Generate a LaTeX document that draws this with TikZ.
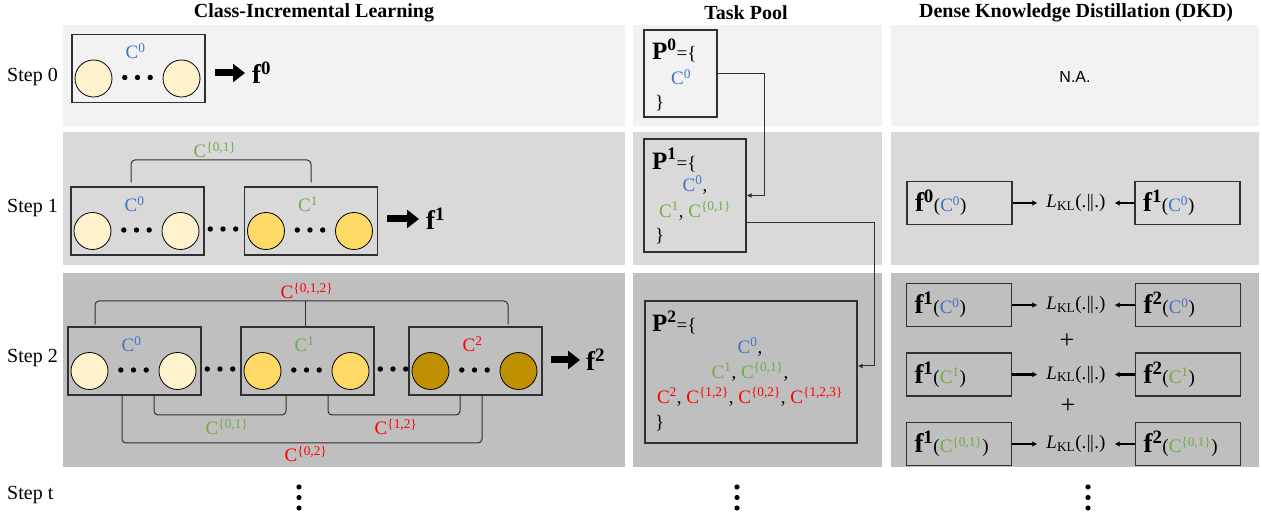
\documentclass[tikz,border=0pt]{standalone}
\usepackage{fontspec}
\setmainfont{Liberation Serif}
\newfontfamily\arialfont{Liberation Sans}
\usetikzlibrary{arrows.meta}

\definecolor{row0bg}{HTML}{F2F2F2}
\definecolor{row1bg}{HTML}{D9D9D9}
\definecolor{row2bg}{HTML}{BFBFBF}
\definecolor{cl0}{HTML}{FFF2CC}
\definecolor{cl1}{HTML}{FFD966}
\definecolor{cl2}{HTML}{BF9000}
\definecolor{cblue}{HTML}{4472C4}
\definecolor{cgreen}{HTML}{70AD47}
\definecolor{cred}{HTML}{FF0000}
\definecolor{linec}{HTML}{303030}

\newcommand{\Cset}[2]{\textcolor{#1}{C\textsuperscript{#2}}}
\newcommand{\fmap}[2]{{\fontsize{27}{27}\selectfont\bfseries f\textsuperscript{#1}}(#2)}
\newcommand{\Phead}[1]{{\fontsize{25}{25}\selectfont\bfseries P\textsuperscript{#1}}=\{}
\newcommand{\KL}{\textit{L}\textsubscript{KL}(.\kern0.5pt|\kern-0.5pt|\kern0.5pt.)}
\newcommand{\dotrow}[2]{\foreach \dx in {-12.7,0,12.7} {\fill ({#1+\dx},{#2}) circle (2.7pt);}}

\begin{document}
\begin{tikzpicture}[x=1pt,y=-1pt,
    every node/.style={font=\fontsize{19}{22}\selectfont},
    colhead/.style={font=\fontsize{20}{24}\selectfont\bfseries},
    steplab/.style={anchor=west, inner sep=0pt, font=\fontsize{20}{24}\selectfont},
    clsbox/.style={draw=linec, line width=1.3pt, minimum width=133pt, minimum height=68pt},
    clsdot/.style={circle, draw=black, line width=0.8pt, minimum size=37pt, inner sep=0pt},
    fnode/.style={anchor=west, inner sep=0pt, font=\fontsize{27}{27}\selectfont\bfseries},
    fatarrow/.style={line width=7pt, -{Triangle[length=12pt,width=18pt]}},
    brk/.style={draw=linec, line width=1pt, rounded corners=4pt},
    brklab/.style={inner sep=2pt},
    poolbox/.style={draw=linec, line width=1.3pt},
    poolarr/.style={draw=linec, line width=1pt, -{Latex[length=5pt,width=5pt]}},
    kdbox/.style={draw=linec, line width=1.3pt, minimum width=105pt, minimum height=43pt,
      text width=89pt, align=left, inner xsep=8pt},
    klnode/.style={inner xsep=7pt},
    kdarr/.style={line width=2.2pt, -{Latex[length=5pt,width=6pt]}, shorten >=2pt}]
  \useasboundingbox (0,0) rectangle (1262,518);

  % row backgrounds
  \foreach \ya/\yb/\bg in {25/126/row0bg, 132/265/row1bg, 273/467/row2bg} {
    \fill[\bg] (63,\ya) rectangle (625,\yb);
    \fill[\bg] (633,\ya) rectangle (882,\yb);
    \fill[\bg] (891,\ya) rectangle (1259,\yb);
  }

  % column headings and step labels
  \node[colhead] (hcil) at (314,13) {Class-Incremental Learning};
  \node[colhead] (hpool) at (746,13) {Task Pool};
  \node[colhead] (hdkd) at (1076,13) {Dense Knowledge Distillation (DKD)};
  \node[steplab] (s0) at (7,77) {Step 0};
  \node[steplab] (s1) at (7,208) {Step 1};
  \node[steplab] (s2) at (7,358) {Step 2};
  \node[steplab] (st) at (7,495) {Step t};

  % class groups
  \foreach \nm/\cx/\cy/\fc/\lab in {
      b0/138.5/68.5/cl0/{\Cset{cblue}{0}},
      b1a/137.5/221/cl0/{\Cset{cblue}{0}},
      b1b/311/221/cl1/{\Cset{cgreen}{1}},
      b2a/134.5/361/cl0/{\Cset{cblue}{0}},
      b2b/307.5/361/cl1/{\Cset{cgreen}{1}},
      b2c/475.5/361/cl2/{\Cset{cred}{2}}} {
    \node[clsbox] (\nm) at (\cx,\cy) {};
    \node[clsdot, fill=\fc] (\nm-l) at (\cx-45,\cy+10) {};
    \node[clsdot, fill=\fc] (\nm-r) at (\cx+43,\cy+10) {};
    \node (\nm-c) at (\cx-3,\cy-17) {\lab};
    \dotrow{\cx-1}{\cy+9}
  }
  \dotrow{223}{229}
  \dotrow{220}{369}
  \dotrow{393}{369}

  % models
  \node[fnode] (f0) at (252,73) {f\textsuperscript{0}};
  \node[fnode] (f1) at (426,219) {f\textsuperscript{1}};
  \node[fnode] (f2) at (586,360) {f\textsuperscript{2}};
  \draw[fatarrow, shorten <=9pt, shorten >=7pt] (b0.east |- f0.west) -- (f0.west);
  \draw[fatarrow, shorten <=9pt, shorten >=7pt] (b1b.east |- f1.west) -- (f1.west);
  \draw[fatarrow, shorten <=8pt, shorten >=6pt] (b2c.east |- f2.west) -- (f2.west);

  % combined classes
  \node[brklab, anchor=south] (c01t) at (215,160) {\Cset{cgreen}{\{0,1\}}};
  \draw[brk] ([xshift=-6.5pt,yshift=4pt]b1a.north) |- (c01t.south) -| ([yshift=4pt]b1b.north);
  \node[brklab, anchor=south] (c012) at (307,301) {\Cset{cred}{\{0,1,2\}}};
  \draw[brk] ([xshift=-39.5pt,yshift=2pt]b2a.north) |- (c012.south) -| ([xshift=32.5pt,yshift=2pt]b2c.north);
  \draw[brk] ([xshift=-2.5pt]b2b.north) -- ([xshift=-2.5pt]b2b.north |- c012.south);
  \node[brklab, anchor=north, inner sep=4pt] (c01b) at (227,415) {\Cset{cgreen}{\{0,1\}}};
  \draw[brk] ([xshift=19.5pt]b2a.south) |- (c01b.north) -| ([xshift=-21.5pt]b2b.south);
  \node[brklab, anchor=north, inner sep=4pt] (c12b) at (396,415) {\Cset{cred}{\{1,2\}}};
  \draw[brk] ([xshift=20.5pt]b2b.south) |- (c12b.north) -| ([xshift=-15.5pt]b2c.south);
  \node[brklab, anchor=north, inner sep=3pt] (c02b) at (306,443) {\Cset{cred}{\{0,2\}}};
  \draw[brk] ([xshift=-12.5pt]b2a.south) |- (c02b.north) -| ([xshift=6.5pt]b2c.south);

  % task pool
  \node[poolbox, minimum width=73pt, minimum height=87pt] (p0) at (680.5,73.5) {};
  \node[anchor=west, inner sep=1pt] (p0h) at (651,50) {\Phead{0}};
  \node (p0c) at (681,77) {\Cset{cblue}{0}};
  \node[anchor=west, inner sep=1pt] (p0e) at (654,103) {\}};
  \node[poolbox, minimum width=102pt, minimum height=113pt] (p1) at (695,195.5) {};
  \node[anchor=west, inner sep=1pt] (p1h) at (651,160) {\Phead{1}};
  \node[align=center, font=\fontsize{19}{26}\selectfont] (p1c) at (695,198)
    {\Cset{cblue}{0},\\ \Cset{cgreen}{1}, \Cset{cgreen}{\{0,1\}}};
  \node[anchor=west, inner sep=1pt] (p1e) at (654,236) {\}};
  \node[poolbox, minimum width=212pt, minimum height=142pt] (p2) at (751,372) {};
  \node[anchor=west, inner sep=1pt] (p2h) at (651,322) {\Phead{2}};
  \node[align=center, font=\fontsize{19}{25}\selectfont] (p2c) at (750,372)
    {\Cset{cblue}{0},\\ \Cset{cgreen}{1}, \Cset{cgreen}{\{0,1\}},\\
     \Cset{cred}{2}, \Cset{cred}{\{1,2\}}, \Cset{cred}{\{0,2\}}, \Cset{cred}{\{1,2,3\}}};
  \node[anchor=west, inner sep=1pt] (p2e) at (654,423) {\}};
  \draw[poolarr] (p0.east) -- ++(47,0) |- (p1.east);
  \draw[poolarr] ([yshift=-27.5pt]p1.east) -- ++(128,0) |- ([yshift=6pt]p2.east);

  % distillation
  \node[font=\arialfont\fontsize{16}{19}\selectfont] (na) at (1075,77) {N.A.};
  \node[kdbox] (k1-s) at (959.5,203) {\fmap{0}{\Cset{cblue}{0}}};
  \node[kdbox] (k1-t) at (1187.5,203) {\fmap{1}{\Cset{cblue}{0}}};
  \node[klnode] (kl1) at (1076,203) {\KL};
  \draw[kdarr] (k1-s) -- (kl1);
  \draw[kdarr] (k1-t) -- (kl1);
  \foreach \r/\yy/\cc in {a/305/{\Cset{cblue}{0}}, b/374.5/{\Cset{cgreen}{1}},
      c/444/{\Cset{cgreen}{\{0,1\}}}} {
    \node[kdbox] (k2\r-s) at (959,\yy) {\fmap{1}{\cc}};
    \node[kdbox] (k2\r-t) at (1188,\yy) {\fmap{2}{\cc}};
    \node[klnode] (kl2\r) at (1076,\yy) {\KL};
    \draw[kdarr] (k2\r-s) -- (kl2\r);
    \draw[kdarr] (k2\r-t) -- (kl2\r);
  }
  \node[font=\fontsize{26}{26}\selectfont] (plus1) at (1067,341) {+};
  \node[font=\fontsize{26}{26}\selectfont] (plus2) at (1068,406) {+};

  % further steps
  \foreach \xx in {299,737,1088}
    \foreach \yy in {487,497.5,508}
      \fill (\xx,\yy) circle (2.6pt);
\end{tikzpicture}
\end{document}
